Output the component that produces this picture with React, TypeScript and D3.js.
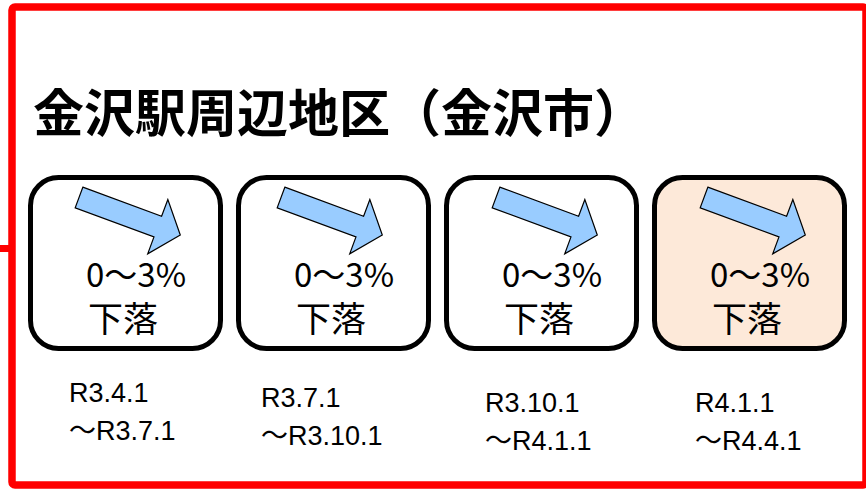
import { useMemo } from "react";
import * as d3 from "d3";

// 期間ごとの変動率（金沢駅周辺地区）
const periodStart = ["R3.4.1", "R3.7.1", "R3.10.1", "R4.1.1"];
const periodEnd = ["R3.7.1", "R3.10.1", "R4.1.1", "R4.4.1"];
const changeRanges = ["0～3%", "0～3%", "0～3%", "0～3%"];
const trendLabels = ["下落", "下落", "下落", "下落"];
const latestFlags = [false, false, false, true];

const title = "金沢駅周辺地区（金沢市）";

const width = 866;
const height = 489;

// small hand-tuned nudges so the period labels sit like the original slide
const labelDx = [41, 25, 41, 43];
const labelDy = [0, 5, 10, 10];
const arrowDx = [51, 45, 52, 52];

const jp = "'Noto Sans CJK JP', 'Noto Sans', sans-serif";
const latin = "'Liberation Sans', 'Noto Sans CJK JP', sans-serif";

const App = () => {
  const x = useMemo(
    () =>
      d3
        .scaleBand<number>()
        .domain(d3.range(periodStart.length))
        .range([28, 847])
        .paddingInner(0.0625),
    []
  );

  // block arrow, drawn in its own frame then rotated
  const arrowPath = useMemo(() => {
    const shaft = 11;
    const head = 29;
    const len = 108;
    const headLen = 24;
    const pts: [number, number][] = [
      [0, -shaft],
      [len - headLen, -shaft],
      [len - headLen, -head],
      [len, 0],
      [len - headLen, head],
      [len - headLen, shaft],
      [0, shaft],
    ];
    return d3.line().curve(d3.curveLinearClosed)(pts) ?? "";
  }, []);

  const boxTop = 175;
  const boxH = 176;
  const bw = x.bandwidth();

  return (
    <svg
      width={width}
      height={height}
      style={{ position: "absolute", left: 0, top: 0, background: "#fff" }}
    >
      <rect x={0} y={0} width={width} height={height} fill="#fff" />
      <rect
        x={12}
        y={7}
        width={854}
        height={478}
        rx={3}
        fill="none"
        stroke="#ff0000"
        strokeWidth={7.5}
      />
      <line x1={0} x2={12} y1={248.5} y2={248.5} stroke="#ff0000" strokeWidth={7} />

      <text
        x={33}
        y={132}
        fontFamily={jp}
        fontWeight={700}
        fontSize={51}
        fill="#000"
      >
        {title}
      </text>

      {periodStart.map((start, i) => {
        const bx = x(i) ?? 0;
        return (
          <g key={start}>
            <rect
              x={bx + 2.5}
              y={boxTop + 2.5}
              width={bw - 5}
              height={boxH - 5}
              rx={28}
              fill={latestFlags[i] ? "#fde9d9" : "#ffffff"}
              stroke="#000"
              strokeWidth={5}
            />
            <path
              d={arrowPath}
              transform={`translate(${bx + arrowDx[i]}, ${boxTop + 22.5}) rotate(20.3)`}
              fill="#99ccff"
              stroke="#000"
              strokeWidth={1.2}
              strokeLinejoin="miter"
            />
            <text
              x={bx + 58}
              y={boxTop + 112}
              fontFamily={jp}
              fontSize={33}
              fill="#000"
            >
              {changeRanges[i]}
            </text>
            <text
              x={bx + 60}
              y={boxTop + 157}
              fontFamily={jp}
              fontSize={35}
              fill="#000"
            >
              {trendLabels[i]}
            </text>
            <text
              x={bx + labelDx[i]}
              y={402 + labelDy[i]}
              fontFamily={latin}
              fontSize={27}
              fill="#000"
            >
              {start}
            </text>
            <text
              x={bx + labelDx[i]}
              y={440 + labelDy[i]}
              fontFamily={latin}
              fontSize={27}
              fill="#000"
            >
              {"～" + periodEnd[i]}
            </text>
          </g>
        );
      })}
    </svg>
  );
};

export default App;
